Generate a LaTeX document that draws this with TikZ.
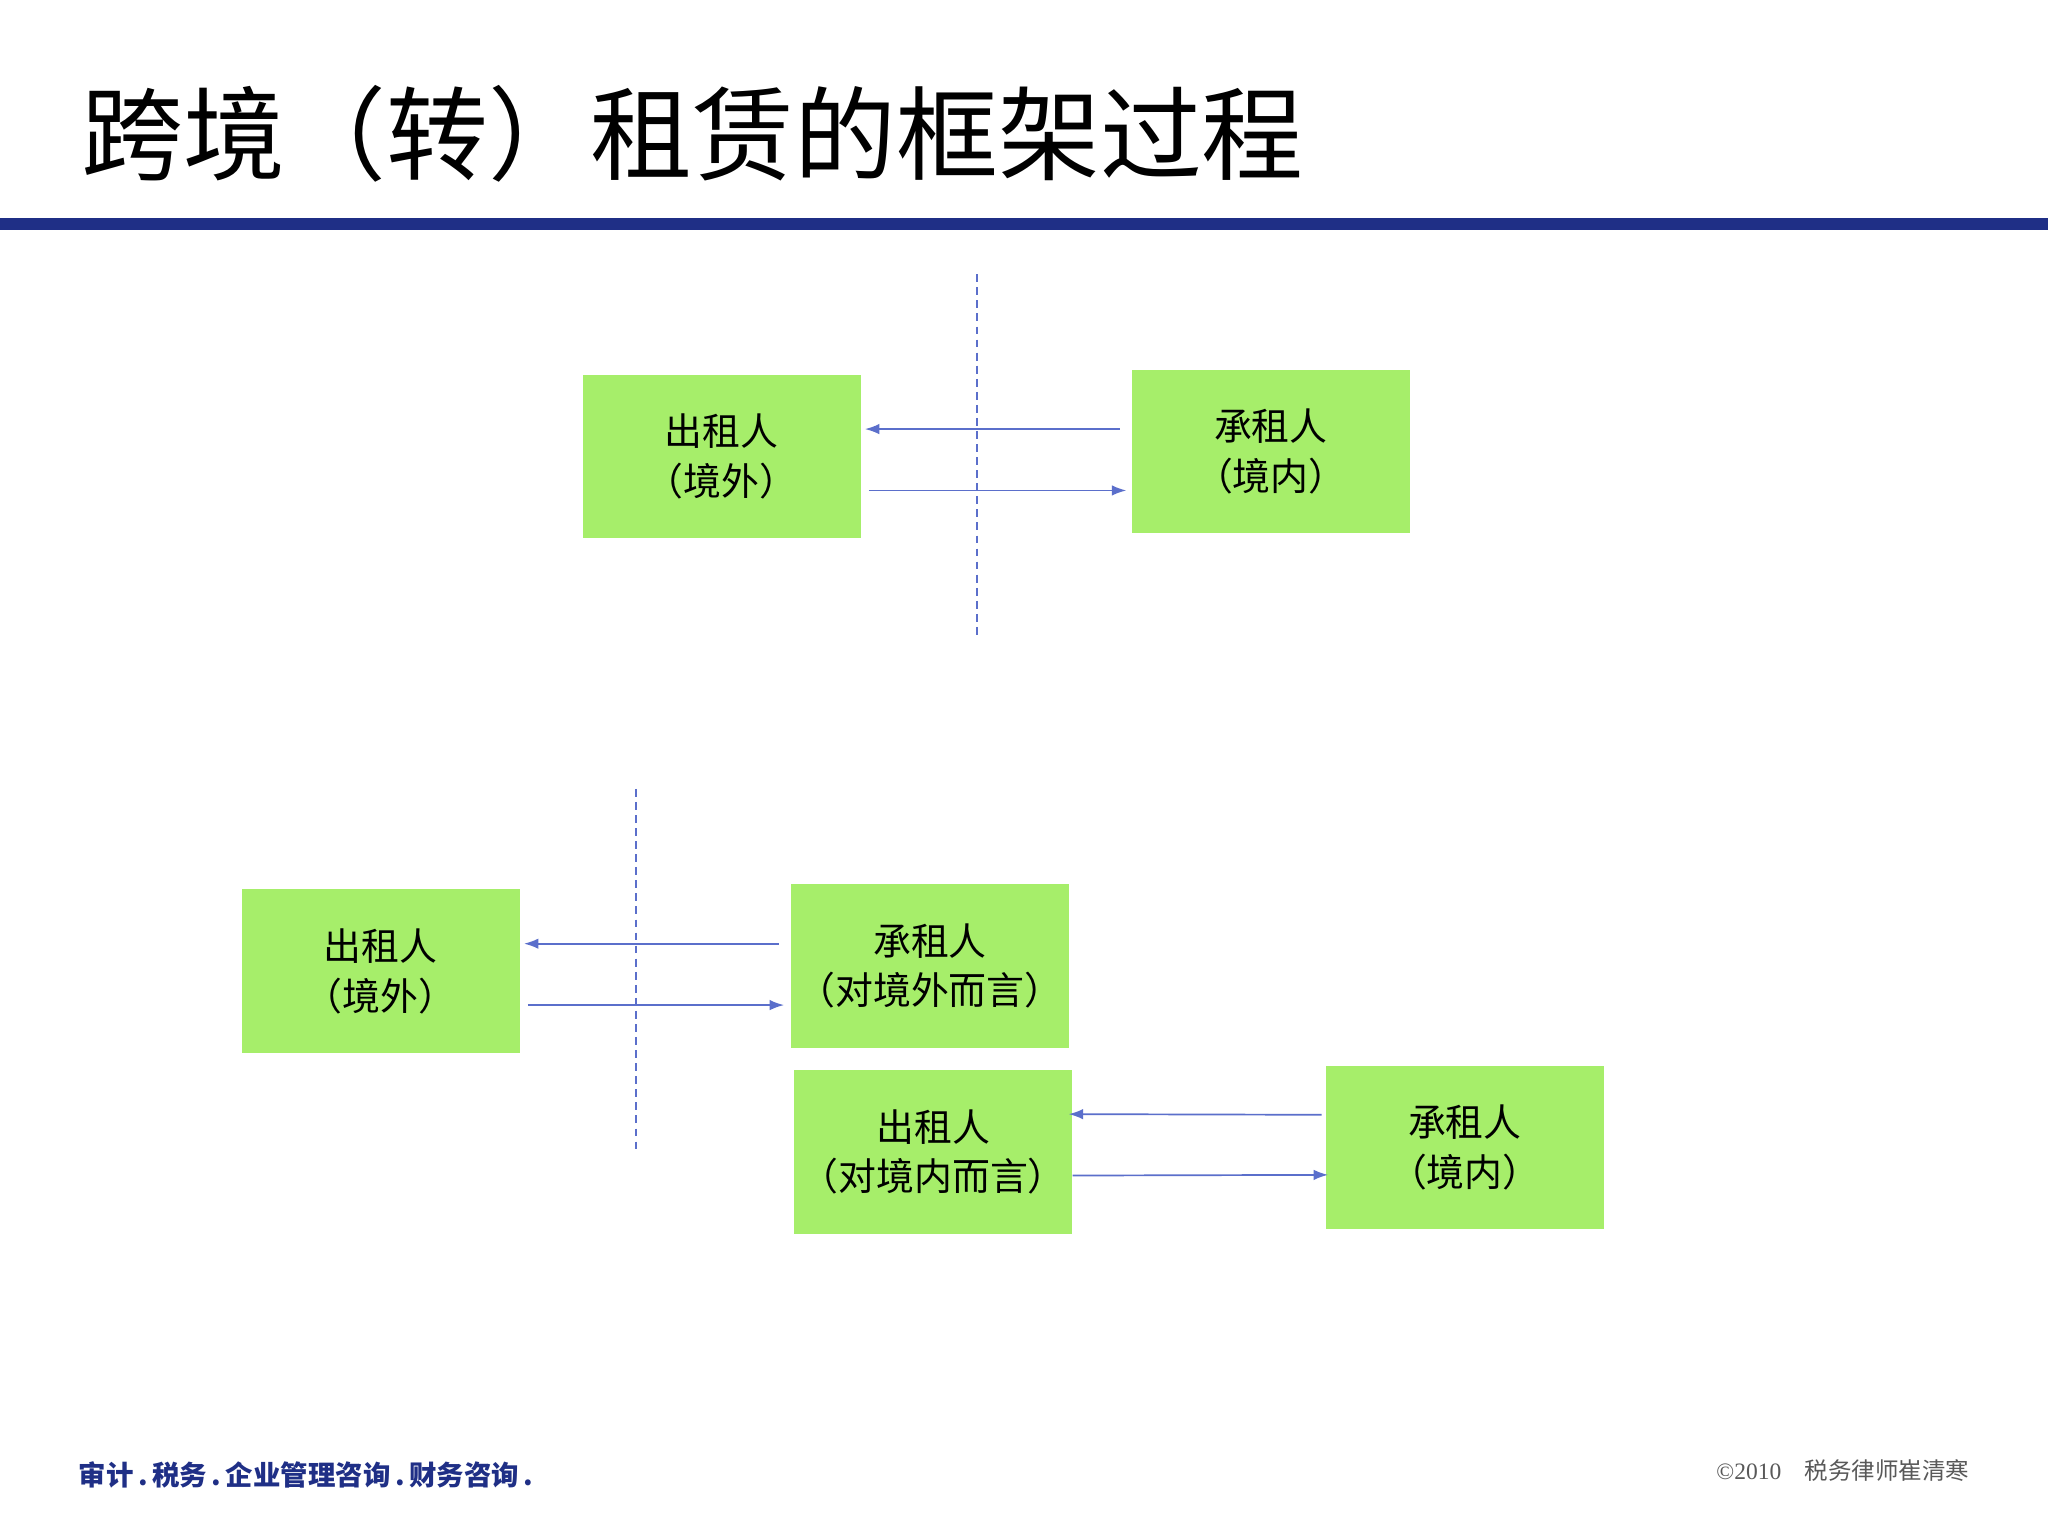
\documentclass[tikz,border=0pt]{standalone}
\usepackage{fontspec}
\setmainfont{Liberation Serif}
\newfontfamily\cjk{Noto Sans CJK SC}
\usetikzlibrary{arrows.meta}
\definecolor{boxg}{HTML}{A6EE6A}
\definecolor{arr}{HTML}{5B6FCB}
\definecolor{navy}{HTML}{1F2F86}
\tikzset{
 box/.style={fill=boxg,draw=none,minimum width=213pt,minimum height=125pt,align=center,font=\cjk\fontsize{29}{38}\selectfont,inner sep=0pt},
 arrow/.style={draw=arr,line width=1.3pt,-{Latex[length=11pt,width=8pt]}},
 divider/.style={draw=arr,line width=1.3pt,dash pattern=on 6pt off 4pt}
}
\begin{document}
\begin{tikzpicture}[x=1pt,y=-1pt]
\useasboundingbox[fill=white] (0,0) rectangle (1568,1176);
\node[anchor=base west,font=\cjk\fontsize{78}{84}\selectfont,inner sep=0pt] (title) at (62,132) {跨境（转）租赁的框架过程};
\fill[navy] (0,167) rectangle (1568,176);
% top
\node[box] (l1) at (552.5,349.5) {出租人\\（境外）};
\node[box] (r1) at (973,345.5) {承租人\\（境内）};
\coordinate (d1a) at (748,210); \coordinate (d1b) at (748,488);
\draw[divider] (d1a) -- (d1b);
\draw[arrow] ([xshift=-9pt,yshift=17pt]r1.west) -- ([xshift=3pt,yshift=21pt]l1.east);
\draw[arrow] ([xshift=6pt,yshift=-26pt]l1.east) -- ([xshift=-4pt,yshift=-30pt]r1.west);
% bottom
\node[box] (a) at (291.5,743.5) {出租人\\（境外）};
\node[box] (b) at (712,739.5) {承租人\\（对境外而言）};
\node[box] (c) at (714.5,882) {出租人\\（对境内而言）};
\node[box] (d) at (1121.5,878.5) {承租人\\（境内）};
\coordinate (d2a) at (487,604); \coordinate (d2b) at (487,883);
\draw[divider] (d2a) -- (d2b);
\draw[arrow] ([xshift=-9pt,yshift=17pt]b.west) -- ([xshift=3pt,yshift=21pt]a.east);
\draw[arrow] ([xshift=6pt,yshift=-26pt]a.east) -- ([xshift=-5pt,yshift=-30pt]b.west);
\draw[arrow] ([xshift=-3pt,yshift=25pt]d.west) -- ([xshift=-3pt,yshift=29pt]c.east);
\draw[arrow] ([xshift=0pt,yshift=-18pt]c.east) -- ([xshift=2pt,yshift=-21pt]d.west);
% footer
\node[anchor=base west,font=\cjk\bfseries\fontsize{21}{24}\selectfont,text=navy,inner sep=0pt] (foot) at (60,1137) {审计\,\textbf{.}\,税务\,\textbf{.}\,企业管理咨询\,\textbf{.}\,财务咨询\,\textbf{.}};
\node[anchor=base east,font=\fontsize{18}{22}\selectfont,text=black!65,inner sep=0pt] (copy) at (1508,1133) {©2010\quad{\cjk 税务律师崔清寒}};
\end{tikzpicture}
\end{document}
